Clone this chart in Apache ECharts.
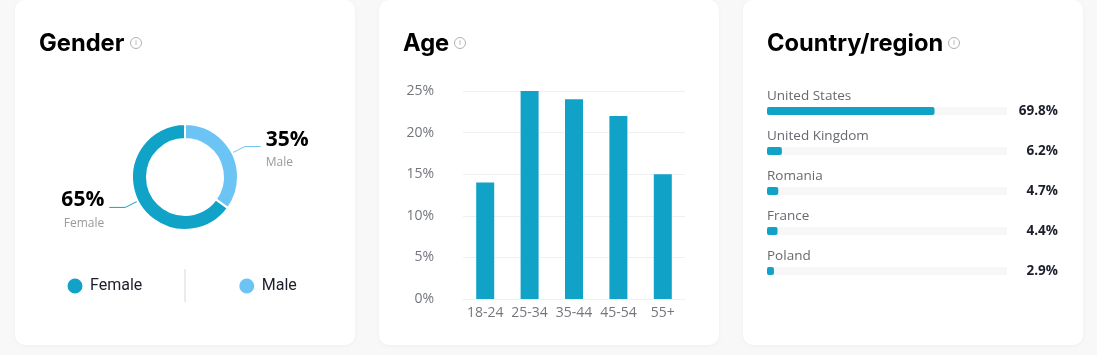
<!DOCTYPE html>
<html>
<head>
<meta charset="utf-8">
<script src="https://cdn.jsdelivr.net/npm/echarts@6/dist/echarts.min.js"></script>
<style>
  html, body { margin: 0; width: 1097px; height: 355px; background: #f8f8f8; overflow: hidden; }
  .card { position: absolute; top: 0; width: 340px; height: 345px; background: #fff; border-radius: 10px; box-shadow: 0 1px 5px rgba(0,0,0,0.04); }
  #chart { position: absolute; left: 0; top: 0; width: 1097px; height: 355px; }
</style>
</head>
<body>
<div class="card" style="left:15px"></div>
<div class="card" style="left:379px"></div>
<div class="card" style="left:743px"></div>
<div id="chart"></div>
<script>
const genderNames = ['Male', 'Female'];
const genderValues = [35, 65];

const ageGroups = ['18-24', '25-34', '35-44', '45-54', '55+'];
const ageValues = [14, 25, 24, 22, 15];

const countries = ['United States', 'United Kingdom', 'Romania', 'France', 'Poland'];
const countryValues = [69.8, 6.2, 4.7, 4.4, 2.9];

const TEAL = '#11a3c7';
const SKY = '#6cc4f5';
const UI_FONT = '"Open Sans", "Noto Sans", sans-serif';

const chart = echarts.init(document.getElementById('chart'));

function makeTitle(text, left) {
    return {
        text, left, top: 32, padding: 0,
        textStyle: { fontFamily: 'Inter', fontSize: 23.7, fontWeight: 700, color: '#000' }
    };
}

function infoIcon(cx) {
    return [
        { type: 'circle', shape: { cx, cy: 43, r: 5.5 }, style: { fill: 'none', stroke: '#b0b0b0', lineWidth: 1 } },
        { type: 'text', x: cx, y: 43, style: { text: 'i', fill: '#a0a0a0', font: '8px ' + UI_FONT, align: 'center', verticalAlign: 'middle' } }
    ];
}

function pieLabel(align) {
    return {
        formatter: '{v|{d}%}\n{n|{b}}',
        alignTo: 'none',
        rich: {
            v: { fontFamily: UI_FONT, fontSize: 21, fontWeight: 700, color: '#000', lineHeight: 32, align },
            n: { fontFamily: UI_FONT, fontSize: 12, color: '#9a9a9a', lineHeight: 14, align }
        }
    };
}

chart.setOption({
    animation: false,
    title: [makeTitle('Gender', 39), makeTitle('Age', 403), makeTitle('Country/region', 767)],
    legend: {
        left: 65.5, top: 276.5, padding: 0, itemWidth: 17, itemHeight: 17, itemGap: 95,
        icon: 'circle',
        data: ['Female', 'Male'],
        textStyle: { fontFamily: 'Roboto', fontSize: 16, color: '#1c1f2b', padding: [0, 0, 0, 1.5] }
    },
    graphic: [
        { type: 'line', shape: { x1: 185, y1: 269, x2: 185, y2: 302 }, style: { stroke: '#e4e4e4', lineWidth: 1.5 } },
        ...infoIcon(136), ...infoIcon(460), ...infoIcon(954)
    ],
    grid: [
        { left: 463, top: 91, width: 222, height: 208 },
        { left: 767, top: 91, width: 240, height: 200 }
    ],
    xAxis: [
        {
            gridIndex: 0, type: 'category', data: ageGroups,
            axisLine: { lineStyle: { color: '#eef0f2' } },
            axisTick: { show: false },
            axisLabel: { fontFamily: UI_FONT, fontSize: 14, color: '#73767d', margin: 7, interval: 0 }
        },
        { gridIndex: 1, type: 'value', min: 0, max: 100, show: false }
    ],
    yAxis: [
        {
            gridIndex: 0, type: 'value', min: 0, max: 25, interval: 5,
            axisLabel: { fontFamily: UI_FONT, fontSize: 14, color: '#73767d', margin: 29, padding: [0, 0, 4, 0], formatter: '{value}%' },
            splitLine: { lineStyle: { color: '#eef0f2' } }
        },
        {
            gridIndex: 1, type: 'category', inverse: true, data: countries,
            axisLine: { show: false },
            axisTick: { show: false },
            axisLabel: {
                inside: true, margin: 0, interval: 0, align: 'left', verticalAlign: 'bottom',
                padding: [0, 0, 8, 0],
                fontFamily: UI_FONT, fontSize: 13.5, color: '#666a70'
            }
        },
        {
            gridIndex: 1, type: 'category', inverse: true, position: 'right',
            data: countryValues.map(v => v.toFixed(1) + '%'),
            axisLine: { show: false },
            axisTick: { show: false },
            axisLabel: {
                margin: 51, interval: 0, align: 'right', padding: [0, 0, 4, 0],
                fontFamily: UI_FONT, fontSize: 13.5, fontWeight: 700, color: '#1c1f2b'
            }
        }
    ],
    series: [
        {
            type: 'pie',
            center: [185, 177],
            radius: [38, 53],
            startAngle: 90,
            itemStyle: { borderColor: '#fff', borderWidth: 2 },
            labelLine: { show: true, length: 14, length2: 16, smooth: false, lineStyle: { width: 1 } },
            data: genderNames.map((name, i) => ({
                name,
                value: genderValues[i],
                itemStyle: { color: name === 'Male' ? SKY : TEAL },
                label: pieLabel(name === 'Male' ? 'left' : 'right')
            }))
        },
        {
            type: 'bar',
            xAxisIndex: 0, yAxisIndex: 0,
            barWidth: 18,
            itemStyle: { color: TEAL },
            data: ageValues
        },
        {
            type: 'bar',
            xAxisIndex: 1, yAxisIndex: 1,
            barWidth: 8,
            showBackground: true,
            backgroundStyle: { color: '#f7f7f7' },
            itemStyle: { color: TEAL, borderRadius: 2 },
            data: countryValues
        }
    ]
});
</script>
</body>
</html>
